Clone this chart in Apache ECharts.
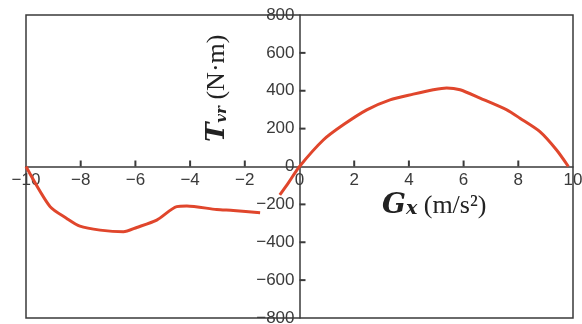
<!DOCTYPE html>
<html>
<head>
<meta charset="utf-8">
<script src="https://cdn.jsdelivr.net/npm/echarts@6/dist/echarts.min.js"></script>
<style>
    html, body { margin: 0; padding: 0; background: #fff; }
    #chart { width: 582px; height: 324px; }
</style>
</head>
<body>
<div id="chart"></div>
<script>
// left branch (negative Gx)
const leftX = [-10, -9.12, -8.51, -8.03, -7.29, -6.44, -5.95, -5.22, -4.49, -4.12, -3.03, -2.42, -1.44];
const leftY = [0, -212, -274, -315, -336, -345, -322, -283, -212, -209, -227, -232, -244];
// right branch (through origin)
const rightX = [-0.72, -0.4, 0, 0.87, 1.6, 2.46, 3.31, 4.16, 4.89, 5.38, 5.87, 6.6, 7.58, 8.06, 8.79, 9.4, 9.83];
const rightY = [-150, -85, 0, 140, 220, 299, 352, 382, 405, 415, 405, 361, 299, 255, 184, 87, 0];

const xTicks = [-10, -8, -6, -4, -2, 0, 2, 4, 6, 8, 10];
const yTicks = [-800, -600, -400, -200, 0, 200, 400, 600, 800];

const chart = echarts.init(document.getElementById('chart'));

const gridBox = { left: 26, right: 9, top: 15, bottom: 6 };
const plotW = 582 - gridBox.left - gridBox.right;
const plotH = 324 - gridBox.top - gridBox.bottom;
const axisColor = '#3a3a3a';

function minus(v) {
    return String(v).replace('-', '\u2212');
}

const lineData = leftX.map((x, i) => [x, leftY[i]])
    .concat([[null, null]])
    .concat(rightX.map((x, i) => [x, rightY[i]]));

// tick marks on the crossing axes (inner ticks only, not at the frame or origin)
const xTickMarks = xTicks.slice(1, -1).filter((v) => v !== 0).map((v) => [v, 0]);
const yTickMarks = yTicks.slice(1, -1).filter((v) => v !== 0).map((v) => [0, v]);

const labelStyle = {
    color: axisColor,
    fontFamily: 'Liberation Sans, Arial, sans-serif',
    fontSize: 17,
};

const option = {
    animation: false,
    grid: Object.assign({
        outerBoundsMode: 'none',
        containLabel: false,
        show: true,
        borderColor: axisColor,
        borderWidth: 1.5,
        backgroundColor: 'transparent',
    }, gridBox),
    xAxis: {
        type: 'value',
        min: xTicks[0],
        max: xTicks[xTicks.length - 1],
        interval: 2,
        // axis sits at y = 0, move it up from the bottom edge
        offset: -plotH / 2,
        axisLine: { show: true, onZero: false, lineStyle: { color: axisColor, width: 1.5 } },
        axisTick: { show: false },
        axisLabel: Object.assign({ margin: 5, formatter: minus, showMinLabel: true, showMaxLabel: true, hideOverlap: false }, labelStyle),
        splitLine: { show: false },
    },
    yAxis: {
        type: 'value',
        min: yTicks[0],
        max: yTicks[yTicks.length - 1],
        interval: 200,
        // axis sits at x = 0
        offset: -plotW / 2,
        axisLine: { show: true, onZero: false, lineStyle: { color: axisColor, width: 1.5 } },
        axisTick: { show: false },
        axisLabel: Object.assign({ margin: 5, formatter: minus, showMinLabel: true, showMaxLabel: true, hideOverlap: false }, labelStyle),
        splitLine: { show: false },
    },
    series: [
        {
            type: 'scatter',
            data: xTickMarks,
            symbol: 'rect',
            symbolSize: [2, 6],
            symbolOffset: [0, -3],
            itemStyle: { color: axisColor, opacity: 1 },
            silent: true,
            z: 4,
        },
        {
            type: 'scatter',
            data: yTickMarks,
            symbol: 'rect',
            symbolSize: [6, 2],
            symbolOffset: [3, 0],
            itemStyle: { color: axisColor, opacity: 1 },
            silent: true,
            z: 4,
        },
        {
            type: 'line',
            data: lineData,
            showSymbol: false,
            smooth: 0.25,
            connectNulls: false,
            lineStyle: { color: '#e0462c', width: 3 },
            z: 3,
        },
    ],
    graphic: [
        {
            type: 'text',
            x: 204,
            y: 142,
            rotation: Math.PI / 2,
            style: {
                text: '{t|T}{s|vr}{u| (N·m)}',
                rich: {
                    t: { fontFamily: 'DejaVu Serif, serif', fontStyle: 'italic', fontWeight: 'bold', fontSize: 26, fill: '#222' },
                    s: { fontFamily: 'DejaVu Serif, serif', fontStyle: 'italic', fontWeight: 'bold', fontSize: 15, fill: '#222', padding: [10, 0, 0, 0] },
                    u: { fontFamily: 'Liberation Serif, serif', fontSize: 26, fill: '#222' },
                },
            },
        },
        {
            type: 'text',
            x: 382,
            y: 192,
            style: {
                text: '{g|G}{x|x}{u| (m/s²)}',
                rich: {
                    g: { fontFamily: 'DejaVu Serif, serif', fontStyle: 'italic', fontWeight: 'bold', fontSize: 28, fill: '#222' },
                    x: { fontFamily: 'DejaVu Serif, serif', fontStyle: 'italic', fontWeight: 'bold', fontSize: 19, fill: '#222', padding: [7, 0, 0, 0] },
                    u: { fontFamily: 'Liberation Serif, serif', fontSize: 26, fill: '#222' },
                },
            },
        },
    ],
};

chart.setOption(option);
</script>
</body>
</html>
